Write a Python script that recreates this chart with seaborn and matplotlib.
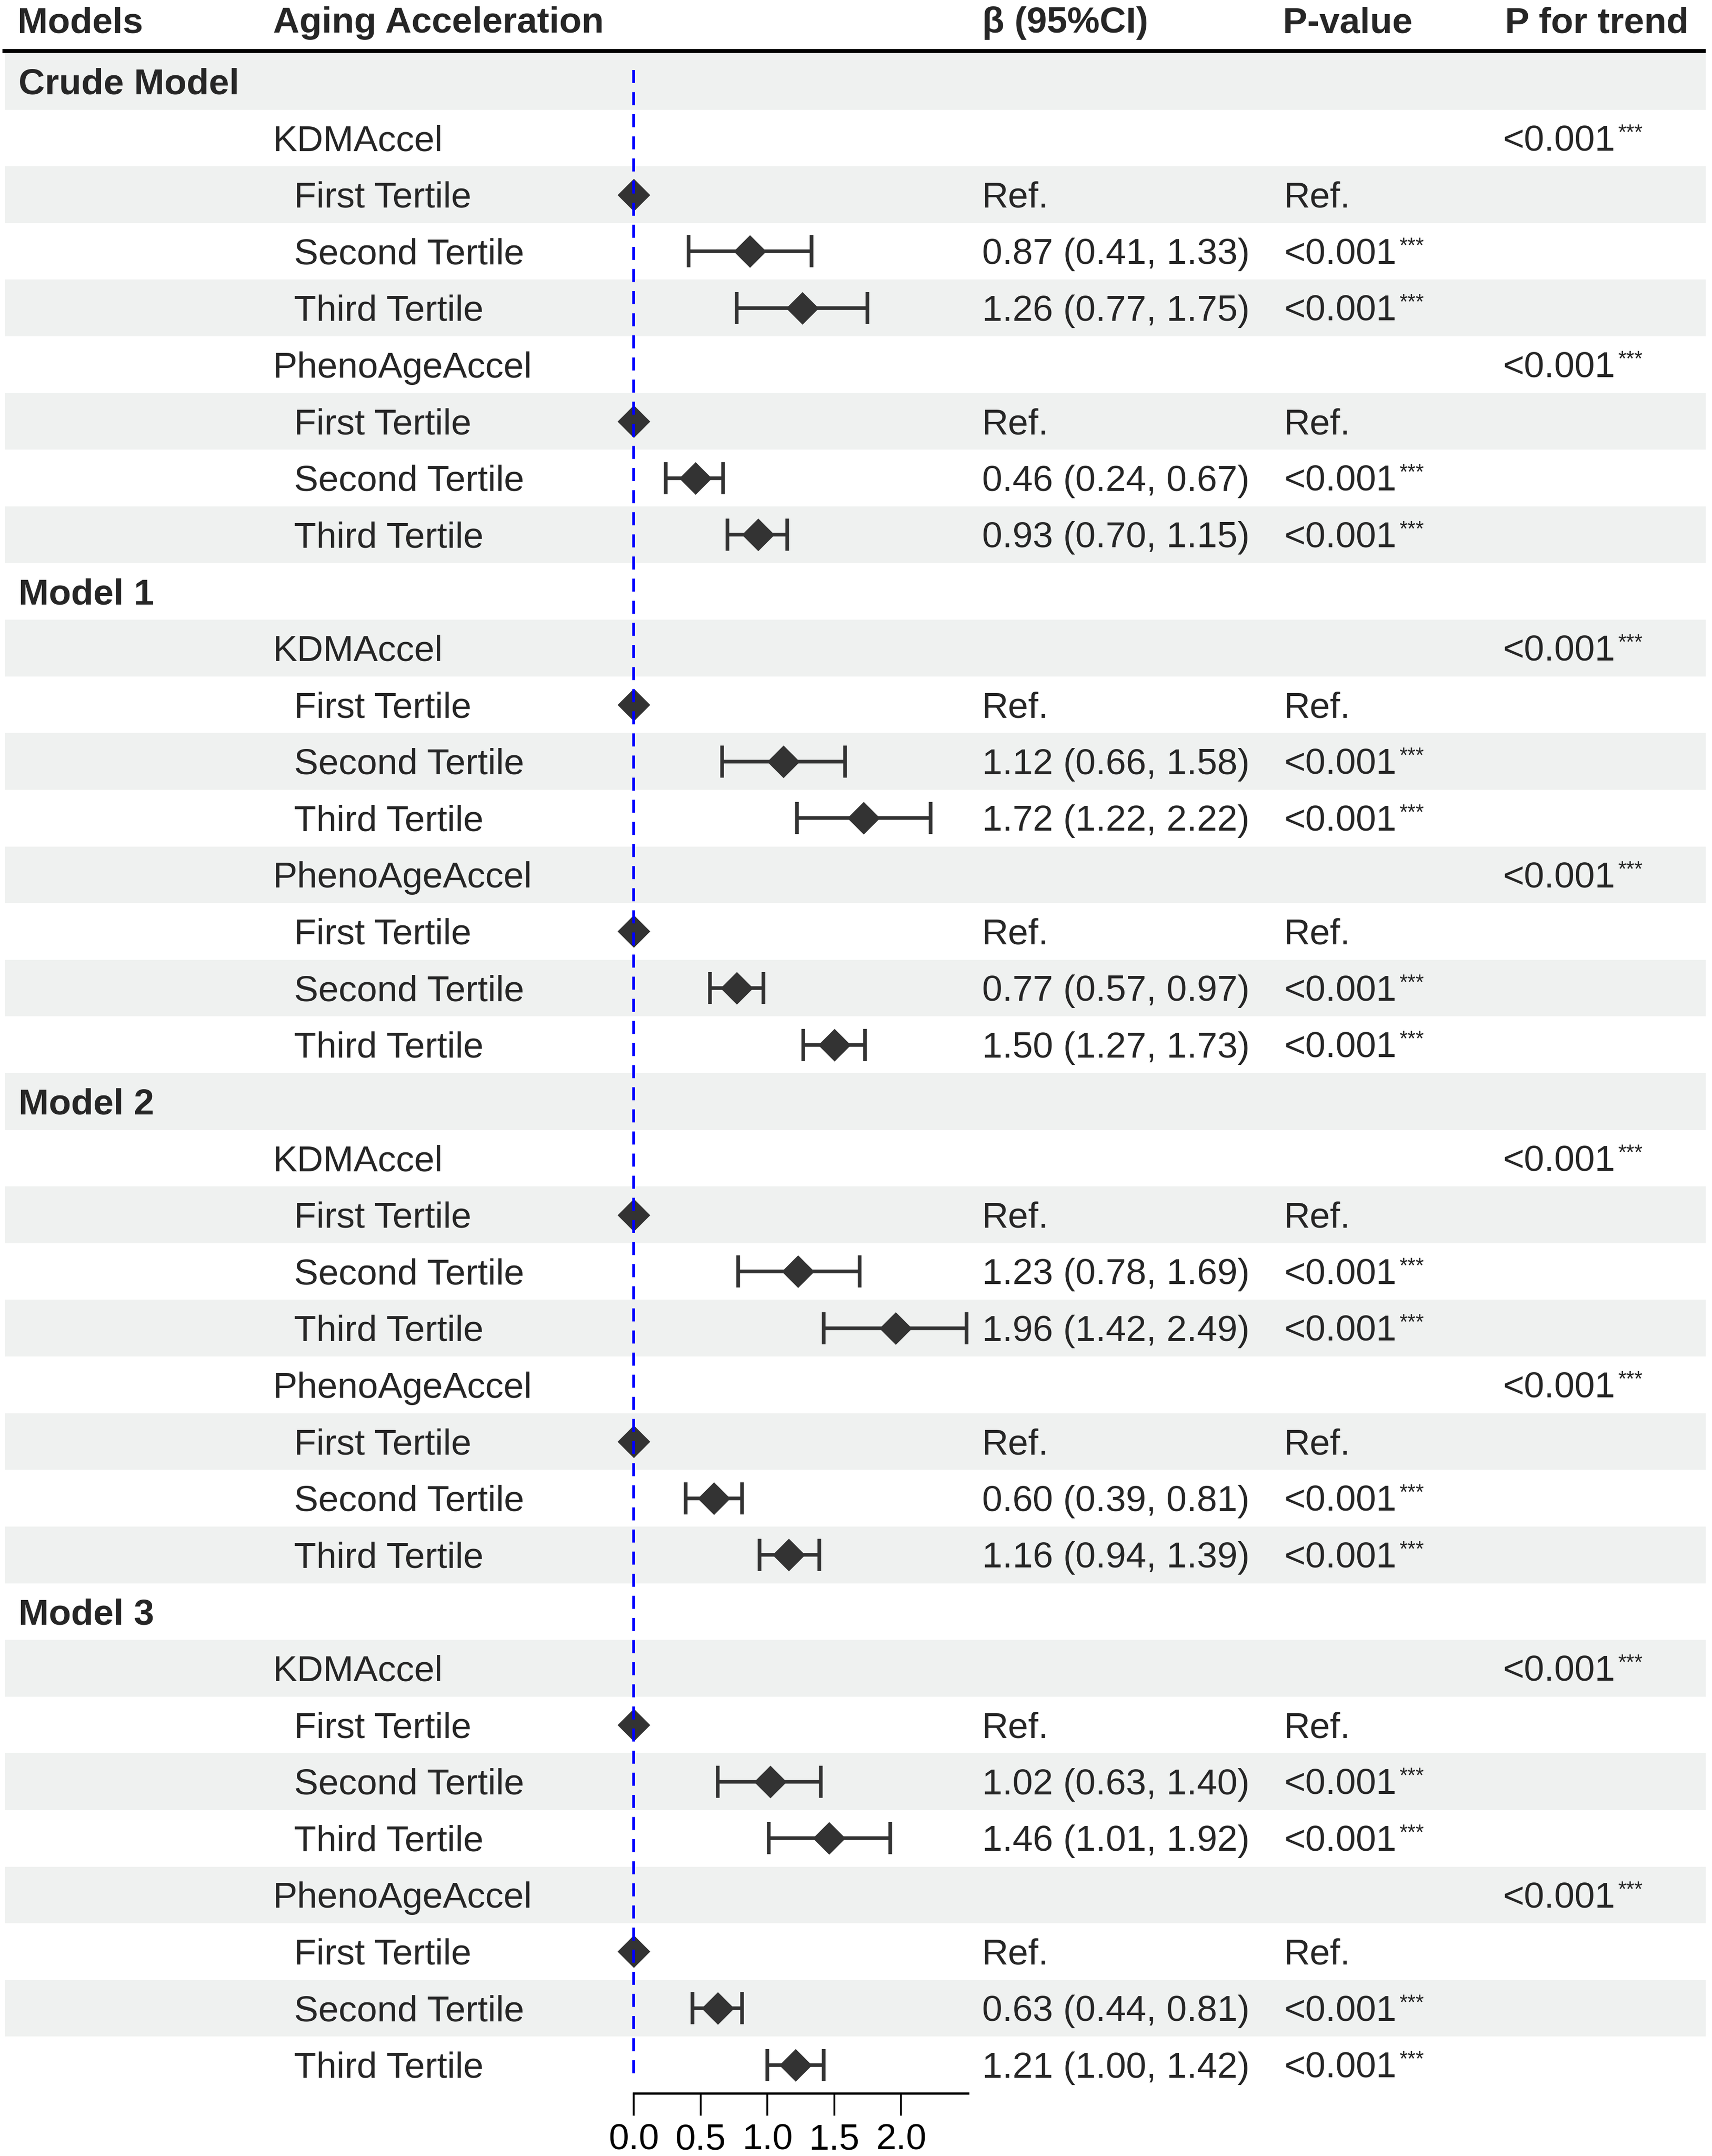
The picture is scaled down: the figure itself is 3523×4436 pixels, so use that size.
"""Forest plot: aging acceleration tertiles across adjustment models."""

import matplotlib.pyplot as plt
import numpy as np
import pandas as pd
import seaborn as sns


MODELS = ["Crude Model", "Model 1", "Model 2", "Model 3"]
ACCELS = ["KDMAccel", "PhenoAgeAccel"]
TERTILES = ["First Tertile", "Second Tertile", "Third Tertile"]

# Second and Third Tertile estimates, ordered model -> accel -> tertile
BETA = [0.87, 1.26, 0.46, 0.93, 1.12, 1.72, 0.77, 1.50,
        1.23, 1.96, 0.60, 1.16, 1.02, 1.46, 0.63, 1.21]
LOWER = [0.41, 0.77, 0.24, 0.70, 0.66, 1.22, 0.57, 1.27,
         0.78, 1.42, 0.39, 0.94, 0.63, 1.01, 0.44, 1.00]
UPPER = [1.33, 1.75, 0.67, 1.15, 1.58, 2.22, 0.97, 1.73,
         1.69, 2.49, 0.81, 1.39, 1.40, 1.92, 0.81, 1.42]
P_VALUE = ["<0.001"] * 16
P_TREND = ["<0.001"] * 8
SIG = "***"
REF_BETA = 0.0
REF_LABEL = "Ref."

XTICKS = [0.0, 0.5, 1.0, 1.5, 2.0]
HEADERS = ["Models", "Aging Acceleration", "β (95%CI)", "P-value", "P for trend"]

W, H, DPI = 3523, 4436, 300
DARK = "#333333"
SHADE = "#EFF1F0"
FS = 18


def build_rows() -> pd.DataFrame:
    rows = []
    k = 0
    t = 0
    for model in MODELS:
        rows.append({"kind": "model", "label": model})
        for accel in ACCELS:
            rows.append({"kind": "accel", "label": accel, "trend": P_TREND[t]})
            t += 1
            for tert in TERTILES:
                if tert == TERTILES[0]:
                    rows.append({"kind": "tertile", "label": tert, "beta": REF_BETA,
                                 "lower": np.nan, "upper": np.nan,
                                 "ci": REF_LABEL, "p": REF_LABEL})
                else:
                    rows.append({"kind": "tertile", "label": tert, "beta": BETA[k],
                                 "lower": LOWER[k], "upper": UPPER[k],
                                 "ci": f"{BETA[k]:.2f} ({LOWER[k]:.2f}, {UPPER[k]:.2f})",
                                 "p": P_VALUE[k]})
                    k += 1
    df = pd.DataFrame(rows)
    df["row"] = np.arange(len(df))
    return df


def p_text(ax, x, y, label, tr):
    t = ax.text(x, y, label, transform=tr, va="baseline", fontsize=FS)
    if label != REF_LABEL:
        # significance stars as small superscript right after the p-value
        ax.annotate(SIG, xy=(1, y), xycoords=(t, tr), xytext=(1.5, 5.8),
                    textcoords="offset points", ha="left", va="baseline", fontsize=10.5)


def main() -> None:
    sns.set_theme(style="white")
    plt.rcParams["font.family"] = ["Liberation Sans", "DejaVu Sans"]

    df = build_rows()
    n = len(df)

    fig = plt.figure(figsize=(W / DPI, H / DPI), dpi=DPI)
    top_px, bottom_px = 109, 4307
    ax = fig.add_axes([0, (H - bottom_px) / H, 1, (bottom_px - top_px) / H])
    x0_px, unit_px = 1304, 275
    ax.set_xlim(-x0_px / unit_px, (W - x0_px) / unit_px)

    # zebra stripes
    for r in df["row"][::2]:
        ax.axhspan(r - 0.5, r + 0.5, xmin=10 / W, xmax=3510 / W, color=SHADE, lw=0, zorder=0)

    est = df.dropna(subset=["lower"])
    ax.errorbar(est["beta"], est["row"],
                xerr=[est["beta"] - est["lower"], est["upper"] - est["beta"]],
                fmt="none", ecolor=DARK, elinewidth=1.8, capsize=8, capthick=1.8, zorder=2)
    sns.scatterplot(data=df.dropna(subset=["beta"]), x="beta", y="row", marker="D", s=130,
                    color=DARK, linewidth=0, ax=ax, zorder=3, legend=False)
    ax.vlines(0, -0.2, n - 0.8, colors="#0000FF", linestyles=(0, (4.6, 3.2)), lw=1.4, zorder=4)

    ax.set_ylim(n - 0.5, -0.5)
    ax.set_xlabel("")
    ax.set_ylabel("")
    ax.set_yticks([])
    ax.set_xticks(XTICKS)
    ax.set_xticklabels([f"{v:.1f}" for v in XTICKS])
    ax.tick_params(axis="x", bottom=True, length=11, width=0.9, pad=3.8, labelsize=FS,
                   direction="out", colors="black")
    for side in ["left", "right", "top"]:
        ax.spines[side].set_visible(False)
    ax.spines["bottom"].set_bounds(0, 2.5)
    ax.spines["bottom"].set_linewidth(1.1)
    ax.spines["bottom"].set_color("black")
    ax.set_facecolor("none")

    tr = ax.get_yaxis_transform()
    base = 0.225
    col_model, col_accel, col_tert = 38 / W, 562 / W, 605 / W
    col_ci, col_p, col_trend = 2021 / W, 2642 / W, 3092 / W

    # header
    for label, x in zip(HEADERS, [36 / W, col_accel, col_ci, 2640 / W, 3097 / W]):
        ax.text(x, -0.86, label, transform=tr, ha="left", va="baseline",
                fontsize=FS, fontweight="bold", clip_on=False)
    ax.plot([5 / W, 3510 / W], [-0.535, -0.535], transform=tr, color="black",
            lw=2.0, clip_on=False, solid_capstyle="butt")

    for row in df.itertuples(index=False):
        y = row.row + base
        if row.kind == "model":
            ax.text(col_model, y, row.label, transform=tr, va="baseline",
                    fontsize=FS, fontweight="bold")
        elif row.kind == "accel":
            ax.text(col_accel, y, row.label, transform=tr, va="baseline", fontsize=FS)
            p_text(ax, col_trend, y, row.trend, tr)
        else:
            ax.text(col_tert, y, row.label, transform=tr, va="baseline", fontsize=FS)
            ax.text(col_ci, y, row.ci, transform=tr, va="baseline", fontsize=FS)
            p_text(ax, col_p, y, row.p, tr)

    fig.savefig("out.png", dpi=DPI)
    plt.close(fig)


if __name__ == "__main__":
    main()
